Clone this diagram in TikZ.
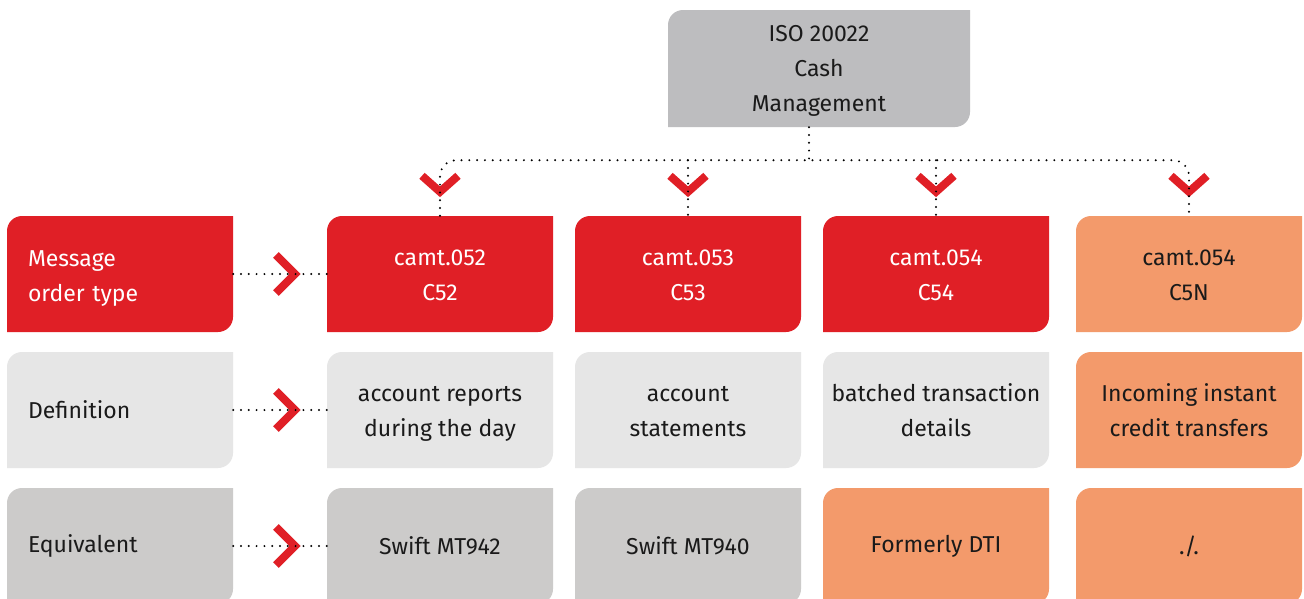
\documentclass[tikz,border=0pt]{standalone}
\usepackage{fontspec}
\setmainfont{Fira Sans}
\usetikzlibrary{calc}

\definecolor{crimson}{HTML}{E01F26}
\definecolor{fog}{HTML}{E6E6E6}
\definecolor{stone}{HTML}{CCCBCA}
\definecolor{ash}{HTML}{BDBDBF}
\definecolor{apricot}{HTML}{F39A6B}
\definecolor{ink}{HTML}{1A1A1A}

\tikzset{
  cell/.style={minimum width=226pt, minimum height=116pt, inner sep=0pt,
    align=center, text=ink, font=\fontsize{23}{35}\selectfont,
    path picture={
      \fill[#1] (path picture bounding box.south west)
        -- ([yshift=-15pt]path picture bounding box.north west)
        arc[start angle=180, end angle=90, radius=15pt]
        -- (path picture bounding box.north east)
        -- ([yshift=15pt]path picture bounding box.south east)
        arc[start angle=0, end angle=-90, radius=15pt]
        -- cycle;}},
  rowlabel/.style={cell=#1, align=left, text width=184pt},
  twoline/.style={text height=52pt, text depth=0pt},
  threeline/.style={text height=85pt, text depth=0pt},
  toptwo/.style={text height=0pt, text depth=16pt},
  link/.style={line width=2.2pt, dash pattern=on 0pt off 7.8pt, line cap=round},
  downchev/.pic={\draw[crimson, line width=8pt] (-18,16) -- (0,0) -- (18,16);},
  rightchev/.pic={\draw[crimson, line width=8pt] (-19,19) -- (0,0) -- (-19,-19);}
}

\begin{document}
\begin{tikzpicture}[x=1pt, y=1pt]
  \clip (0,0) rectangle (1304,-598);
  \fill[white] (0,0) rectangle (1304,-598);

  % root
  \node[cell=ash, threeline, minimum width=302pt, minimum height=117pt] (iso) at (819,-68.5)
    {ISO 20022\\Cash\\Management};

  % row labels
  \node[rowlabel=crimson, toptwo, text=white] (lab1) at (120,-274) {Message\\order type};
  \node[rowlabel=fog] (lab2) at (120,-410) {Definition};
  \node[rowlabel=stone] (lab3) at (120,-546) {Equivalent};

  % message types
  \node[cell=crimson, twoline, text=white] (c52) at (440,-274) {camt.052\\C52};
  \node[cell=crimson, twoline, text=white] (c53) at (688,-274) {camt.053\\C53};
  \node[cell=crimson, twoline, text=white] (c54) at (936,-274) {camt.054\\C54};
  \node[cell=apricot, twoline] (c5n) at (1189,-274) {camt.054\\C5N};

  % definitions
  \node[cell=fog, twoline] (d52) at (440,-410) {account reports\\during the day};
  \node[cell=fog, twoline] (d53) at (688,-410) {account\\statements};
  \node[cell=fog, twoline] (d54) at (936,-410) {batched transaction\\details};
  \node[cell=apricot, twoline] (d5n) at (1189,-410) {Incoming instant\\credit transfers};

  % equivalents
  \node[cell=stone] (e52) at (440,-546) {Swift MT942};
  \node[cell=stone] (e53) at (688,-546) {Swift MT940};
  \node[cell=apricot] (e54) at (936,-546) {Formerly DTI};
  \node[cell=apricot] (e5n) at (1189,-546) {./.};

  \coordinate (hub) at ($(iso.south)+(-10,-33)$);

  % chevrons
  \foreach \c in {c52,c53,c54,c5n}
    \pic at ($(\c.north)+(0,24)$) {downchev};
  \foreach \l/\r in {lab1/c52,lab2/d52,lab3/e52}
    \pic at ($(\l.east)!0.66!(\r.west)$) {rightchev};

  % connectors
  \draw[link] (iso.south -| hub) -- (hub);
  \draw[link, rounded corners=16pt] (c52.north) |- (hub) -| (c5n.north);
  \draw[link] (c53.north |- hub) -- (c53.north);
  \draw[link] (c54.north |- hub) -- (c54.north);
  \foreach \l/\r in {lab1/c52,lab2/d52,lab3/e52}
    \draw[link] (\l.east) -- (\r.west);
\end{tikzpicture}
\end{document}
